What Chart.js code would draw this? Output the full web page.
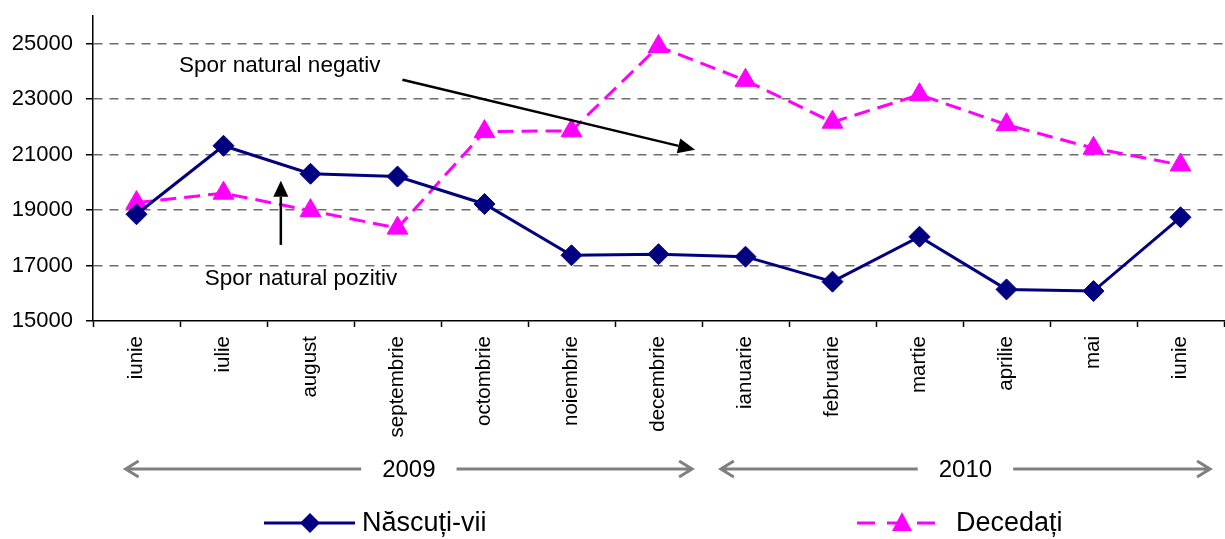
<!DOCTYPE html>
<html>
<head>
<meta charset="utf-8">
<script src="https://cdn.jsdelivr.net/npm/chart.js@4.4.1/dist/chart.umd.min.js"></script>
<style>
  html, body { margin: 0; padding: 0; background: #fff; overflow: hidden; }
  #wrap { width: 1237px; height: 539px; position: relative; }
</style>
</head>
<body>
<div id="wrap"><canvas id="c"></canvas></div>
<script>
var months = ['iunie', 'iulie', 'august', 'septembrie', 'octombrie', 'noiembrie', 'decembrie',
  'ianuarie', 'februarie', 'martie', 'aprilie', 'mai', 'iunie'];
var nascuti = [18850, 21320, 20310, 20210, 19220, 17370, 17410, 17320, 16420, 18040, 16140, 16080, 18740];
var decedati = [19270, 19610, 18980, 18350, 21830, 21860, 24900, 23680, 22170, 23160, 22080, 21230, 20630];
var yTicks = [15000, 17000, 19000, 21000, 23000, 25000];
var yearLabels = ['2009', '2010'];
var yearFrom = [-0.125, 6.716];
var yearTo = [6.386, 12.34];
var seriesNames = ['Născuți-vii', 'Decedați'];

var FONT = '"Liberation Sans", Arial, sans-serif';

function filledArrow(ctx, x1, y1, x2, y2, len, w) {
  var a = Math.atan2(y2 - y1, x2 - x1);
  var bx = x2 - len * Math.cos(a), by = y2 - len * Math.sin(a);
  ctx.beginPath();
  ctx.moveTo(x1, y1);
  ctx.lineTo(bx, by);
  ctx.stroke();
  ctx.beginPath();
  ctx.moveTo(x2, y2);
  ctx.lineTo(bx + Math.sin(a) * w / 2, by - Math.cos(a) * w / 2);
  ctx.lineTo(bx - Math.sin(a) * w / 2, by + Math.cos(a) * w / 2);
  ctx.closePath();
  ctx.fill();
}

function openArrowSeg(ctx, x1, x2, y, headL, headR) {
  ctx.beginPath();
  ctx.moveTo(x1, y);
  ctx.lineTo(x2, y);
  if (headL) {
    ctx.moveTo(x1 + 13, y - 8);
    ctx.lineTo(x1, y);
    ctx.lineTo(x1 + 13, y + 8);
  }
  if (headR) {
    ctx.moveTo(x2 - 13, y - 8);
    ctx.lineTo(x2, y);
    ctx.lineTo(x2 - 13, y + 8);
  }
  ctx.stroke();
}

var extras = {
  id: 'extras',
  afterDatasetsDraw: function(chart) {
    var ctx = chart.ctx;
    var xs = chart.scales.x, ys = chart.scales.y;
    function px(v) { return xs.getPixelForValue(v); }
    function py(v) { return ys.getPixelForValue(v); }

    ctx.save();
    // annotations inside the plot
    ctx.fillStyle = '#000';
    ctx.strokeStyle = '#000';
    ctx.lineWidth = 2.5;
    ctx.font = '22.5px ' + FONT;
    ctx.textAlign = 'left';
    ctx.textBaseline = 'middle';
    ctx.fillText('Spor natural negativ', px(0.489), py(24206));
    ctx.fillText('Spor natural pozitiv', px(0.784), py(16516));
    filledArrow(ctx, px(3.057), py(23700), px(6.42), py(21173), 17, 15);
    filledArrow(ctx, px(1.659), py(17744), px(1.659), py(20054), 16, 15);

    // year arrows under the axis
    var yy = 469;
    ctx.font = '24px ' + FONT;
    ctx.textAlign = 'center';
    ctx.strokeStyle = '#808080';
    ctx.lineWidth = 3;
    for (var i = 0; i < yearLabels.length; i++) {
      var a = px(yearFrom[i]), b = px(yearTo[i]);
      var mid = (a + b) / 2;
      var tw = ctx.measureText(yearLabels[i]).width;
      ctx.fillStyle = '#000';
      ctx.fillText(yearLabels[i], mid, yy + 1);
      openArrowSeg(ctx, a, mid - tw / 2 - 21, yy, true, false);
      openArrowSeg(ctx, mid + tw / 2 + 21, b, yy, false, true);
    }

    // legend
    var ly = 523;
    ctx.font = '27px ' + FONT;
    ctx.textAlign = 'left';
    ctx.lineWidth = 3;
    ctx.strokeStyle = '#000080';
    ctx.beginPath(); ctx.moveTo(264, ly); ctx.lineTo(355, ly); ctx.stroke();
    ctx.fillStyle = '#000080';
    ctx.beginPath();
    ctx.moveTo(310, ly - 10); ctx.lineTo(320, ly); ctx.lineTo(310, ly + 10); ctx.lineTo(300, ly);
    ctx.closePath(); ctx.fill();
    ctx.fillStyle = '#000';
    ctx.fillText(seriesNames[0], 362, ly + 1);

    ctx.strokeStyle = '#FF00FF';
    ctx.setLineDash([18, 12]);
    ctx.beginPath(); ctx.moveTo(857, ly); ctx.lineTo(937, ly); ctx.stroke();
    ctx.setLineDash([]);
    ctx.fillStyle = '#FF00FF';
    ctx.beginPath();
    ctx.moveTo(902, ly - 11); ctx.lineTo(912, ly + 8); ctx.lineTo(892, ly + 8);
    ctx.closePath(); ctx.fill();
    ctx.fillStyle = '#000';
    ctx.fillText(seriesNames[1], 956, ly + 1);
    ctx.restore();
  }
};

new Chart(document.getElementById('c'), {
  type: 'line',
  data: {
    labels: months,
    datasets: [{
      label: seriesNames[0],
      data: nascuti,
      borderColor: '#000080',
      backgroundColor: '#000080',
      borderWidth: 3,
      pointStyle: 'rectRot',
      pointRadius: 10.5,
      pointBorderWidth: 1,
      tension: 0
    }, {
      label: seriesNames[1],
      data: decedati,
      borderColor: '#FF00FF',
      backgroundColor: '#FF00FF',
      borderWidth: 3,
      borderDash: [16, 8],
      pointStyle: 'triangle',
      pointRadius: 12,
      pointBorderWidth: 1,
      tension: 0
    }]
  },
  options: {
    responsive: true,
    maintainAspectRatio: false,
    animation: false,
    devicePixelRatio: 1,
    layout: { padding: { left: 0, right: 0, top: 16, bottom: 99 } },
    plugins: {
      legend: { display: false },
      tooltip: { enabled: false }
    },
    scales: {
      x: {
        offset: true,
        grid: {
          offset: true,
          drawOnChartArea: false,
          tickLength: 6,
          tickColor: '#000',
          tickWidth: 1.5
        },
        border: { color: '#000', width: 1.5 },
        ticks: {
          minRotation: 90,
          maxRotation: 90,
          autoSkip: false,
          padding: 9,
          color: '#000',
          font: { family: FONT, size: 20.5 }
        },
        afterFit: function(s) {
          s.height = 119;
          s.paddingLeft = 0;
          s.paddingRight = 0;
        }
      },
      y: {
        min: 15000,
        max: 26000,
        afterBuildTicks: function(s) {
          s.ticks = yTicks.map(function(v) { return { value: v }; });
        },
        grid: {
          color: function(c) { return c.tick && c.tick.value === 15000 ? 'rgba(0,0,0,0)' : '#6e6e6e'; },
          lineWidth: 1.5,
          tickLength: 7,
          tickColor: '#000'
        },
        border: { color: '#000', width: 1.5, dash: [9, 7] },
        ticks: {
          padding: 13,
          color: '#000',
          font: { family: FONT, size: 22 },
          callback: function(v) { return String(v); }
        },
        afterFit: function(s) {
          s.width = 93;
          s.paddingTop = 0;
          s.paddingBottom = 0;
        }
      }
    }
  },
  plugins: [extras]
});
</script>
</body>
</html>
